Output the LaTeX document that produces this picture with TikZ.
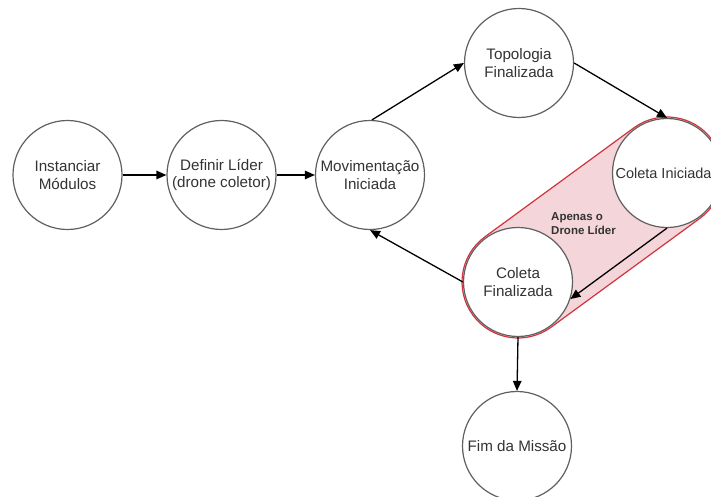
\documentclass[tikz,border=0pt]{standalone}
\usepackage{fontspec}
\setmainfont{Liberation Sans}
\usetikzlibrary{arrows.meta,calc}
\definecolor{txt}{HTML}{333333}
\definecolor{ring}{HTML}{606060}
\definecolor{capfill}{HTML}{F4D5D9}
\definecolor{capedge}{HTML}{D2343E}
\begin{document}
\begin{tikzpicture}[x=1pt,y=1pt,
  state/.style={circle,draw=ring,line width=1.2pt,fill=white,minimum size=109pt,
    inner sep=0pt,align=center,text=txt,font=\fontsize{15.2}{17.5}\selectfont},
  flow/.style={draw=black,line width=1.3pt,-{Triangle[length=10pt,width=8.5pt]}},
  note/.style={text=txt,align=left,inner sep=0pt,
    font=\fontsize{11.5}{14}\selectfont\bfseries}]
\clip (0,0) rectangle (711,497);
\fill[white] (0,0) rectangle (711,497);

% shaded capsule marking the leader-only stage
\begin{scope}[shift={(667,324)},rotate=216.19]
  \draw[fill=capfill,draw=capedge,line width=1.2pt]
    (0,-56) -- (184.6,-56) arc[start angle=-90,end angle=90,radius=56]
    -- (0,56) arc[start angle=90,end angle=270,radius=56] -- cycle;
\end{scope}

\node[state] (inst) at (67.5,322) {Instanciar\\Módulos};
\node[state] (def)  at (221.5,322) {Definir Líder\\(drone coletor)};
\node[state] (mov)  at (370,322) {Movimentação\\Iniciada};
\node[state] (topo) at (519,434) {Topologia\\Finalizada};
\node[state] (ci)   at (667,324) {};
\node[text=txt,inner sep=0pt,font=\fontsize{14.5}{17.5}\selectfont] (citext)
  at (663.5,324) {Coleta Iniciada};
\node[state] (cf)   at (518,215) {Coleta\\Finalizada};
\node[state] (fim)  at (517,51)  {Fim da Missão};

\node[note,anchor=west] (lead) at (551,273) {Apenas o\\Drone Líder};

\draw[flow] (inst.east) -- (def.west);
\draw[flow] (def.east) -- (mov.west);
\draw[flow] (mov.88) -- (topo.west);
\draw[flow] (topo.east) -- (ci.north);
\draw[flow] (ci.south) -- (cf.-18);
\draw[flow] (cf.west) -- (mov.south);
\draw[flow] (cf.south) -- (fim.north);
\end{tikzpicture}
\end{document}
